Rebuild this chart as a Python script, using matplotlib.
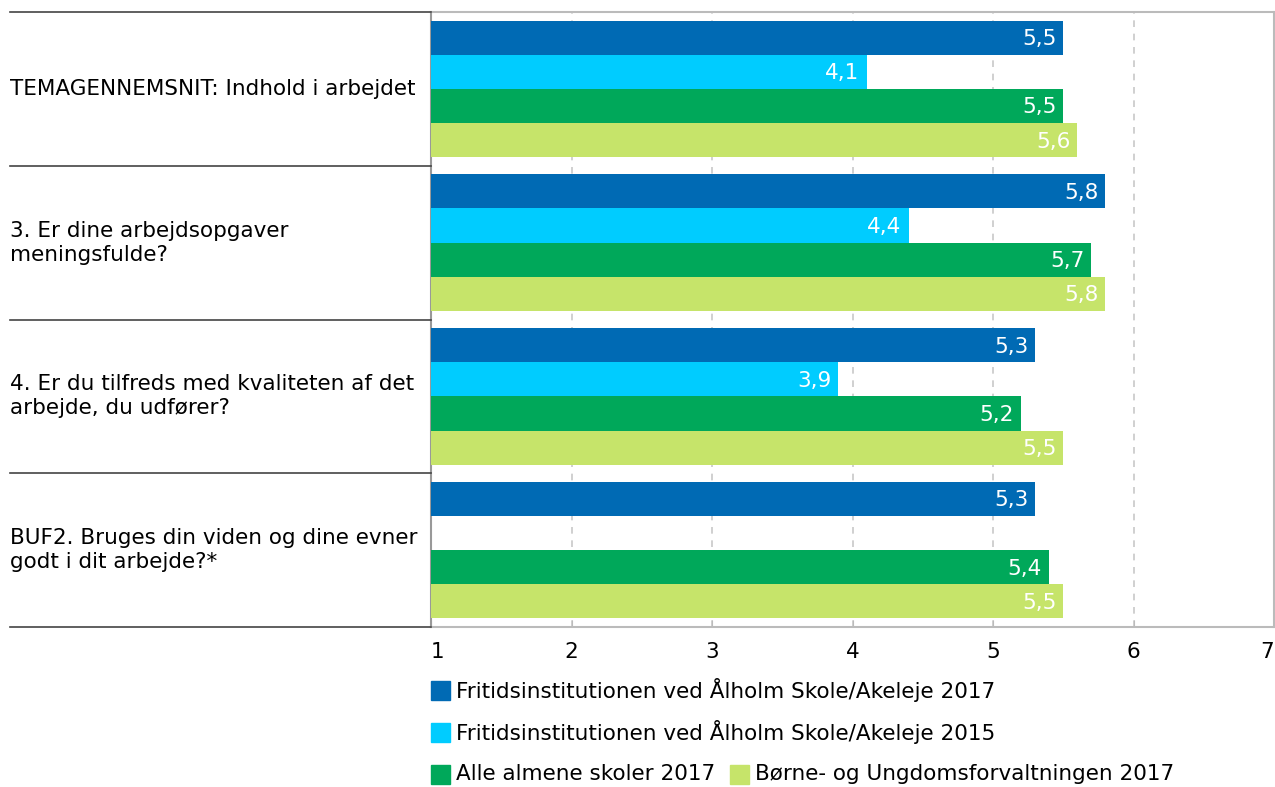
import matplotlib.pyplot as plt
import matplotlib.transforms as mtransforms
from matplotlib.patches import Rectangle
from matplotlib.lines import Line2D
import numpy as np

plt.rcParams['font.family'] = ['DejaVu Sans']

# data
categories = [
    "TEMAGENNEMSNIT: Indhold i arbejdet",
    "3. Er dine arbejdsopgaver\nmeningsfulde?",
    "4. Er du tilfreds med kvaliteten af det\narbejde, du udfører?",
    "BUF2. Bruges din viden og dine evner\ngodt i dit arbejde?*",
]
series_names = [
    "Fritidsinstitutionen ved Ålholm Skole/Akeleje 2017",
    "Fritidsinstitutionen ved Ålholm Skole/Akeleje 2015",
    "Alle almene skoler 2017",
    "Børne- og Ungdomsforvaltningen 2017",
]
akeleje_2017 = [5.5, 5.8, 5.3, 5.3]
akeleje_2015 = [4.1, 4.4, 3.9, None]
almene_2017 = [5.5, 5.7, 5.2, 5.4]
buf_2017 = [5.6, 5.8, 5.5, 5.5]
colors = ["#006AB4", "#00CCFF", "#00A85A", "#C6E46A"]
x_ticks = [1, 2, 3, 4, 5, 6, 7]

all_series = [akeleje_2017, akeleje_2015, almene_2017, buf_2017]
FS = 15.5

W, H = 1275, 787
fig = plt.figure(figsize=(W / 100, H / 100), dpi=100)
ax = fig.add_axes([431 / W, 1 - 627 / H, (1274 - 431) / W, (627 - 12) / H])

bar_h = 0.222
n = len(all_series)
for i, (vals, col) in enumerate(zip(all_series, colors)):
    for g, v in enumerate(vals):
        if v is None:
            continue
        y = g + (i - (n - 1) / 2) * bar_h
        ax.barh(y, v - 1, left=1, height=bar_h, color=col, zorder=3)
        ax.text(v - 0.05, y + 0.01, f"{v:.1f}".replace(".", ","), color="white",
                ha="right", va="center", fontsize=FS, zorder=4)

ax.set_xlim(1, 7)
ax.set_ylim(len(categories) - 0.5, -0.5)
ax.set_yticks([])
ax.set_xticks(x_ticks)
ax.set_xticklabels([str(t) for t in x_ticks], fontsize=FS)
lbls = ax.get_xticklabels()
lbls[0].set_ha("left")
lbls[-1].set_ha("right")
ax.tick_params(axis="x", direction="in", length=5, color="#BBBBBB", pad=11)
for s in ax.spines.values():
    s.set_color("#BBBBBB")
    s.set_linewidth(1.5)
ax.spines["left"].set_color("#999999")
for t in x_ticks[1:-1]:
    ax.axvline(t, color="#C8C8C8", linestyle=(0, (4, 4)), linewidth=1.2, zorder=1)

# category labels and separators on the left
trans = mtransforms.blended_transform_factory(fig.transFigure, ax.transData)
for g, cat in enumerate(categories):
    ax.text(10 / W, g, cat, transform=trans, ha="left", va="center",
            fontsize=FS, linespacing=1.25, clip_on=False)
for b in np.arange(-0.5, len(categories), 1.0):
    fig.add_artist(Line2D([10 / W, 431 / W], [b, b], transform=trans,
                          color="#444444", linewidth=1.2))

# legend
legend_rows = [(0, 431), (1, 431), (2, 431), (2, 730)]
row_y = [690, 732, 774]
for (r, x0), name, col in zip(legend_rows, series_names, colors):
    yc = row_y[r]
    fig.add_artist(Rectangle((x0 / W, 1 - (yc + 9.5) / H), 19 / W, 19 / H,
                             transform=fig.transFigure, color=col))
    fig.text((x0 + 25) / W, 1 - yc / H, name, ha="left", va="center", fontsize=FS)

fig.savefig("out.png", dpi=100)
